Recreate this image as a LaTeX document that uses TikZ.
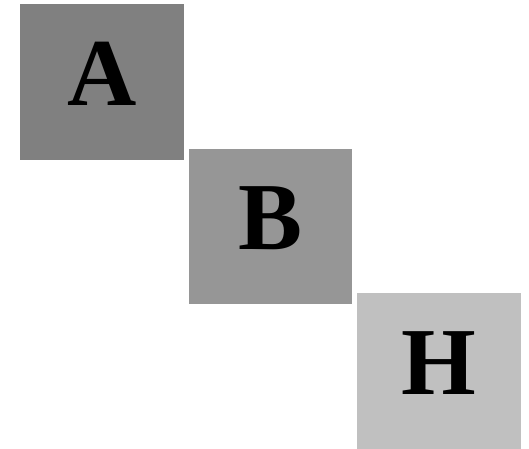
\documentclass[tikz,border=0pt]{standalone}
\usepackage{fontspec}
\setmainfont{Liberation Serif}
\usetikzlibrary{positioning}
\definecolor{tileA}{gray}{0.502}
\definecolor{tileB}{gray}{0.59}
\definecolor{tileH}{gray}{0.753}
\tikzstyle{tile} = [rectangle, minimum width=163.5pt, minimum height=155.5pt, inner sep=0pt, text centered, text depth=16pt, font=\fontsize{96}{96}\selectfont\bfseries]
\begin{document}
\begin{tikzpicture}[x=1pt, y=1pt, node distance=-11.5pt and 4.5pt]
\useasboundingbox (0,0) rectangle (529,-448);

% Nodes
\node (tA) [tile, fill=tileA, anchor=north west] at (20,-4) {A};
\node (tB) [tile, fill=tileB, below right=of tA] {B};
\node (tH) [tile, fill=tileH, below right=of tB] {H};

\end{tikzpicture}
\end{document}
